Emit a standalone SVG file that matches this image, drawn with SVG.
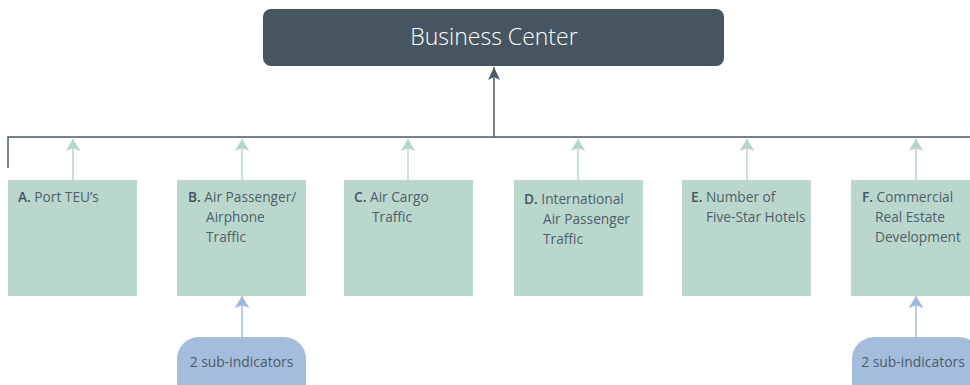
<svg xmlns="http://www.w3.org/2000/svg" width="970" height="385" viewBox="0 0 970 385">
<defs>
<style>
.box{fill:#bad7ce}
.pill{fill:#a5bddc}
.lbl{font-family:"Open Sans","Liberation Sans",sans-serif;font-size:13.7px;fill:#505e68}
.lbl tspan.b{font-weight:600;fill:#46545e}
.pt{font-family:"Open Sans","Liberation Sans",sans-serif;font-size:13.9px;fill:#4e5b68;text-anchor:middle}
.title{font-family:"Open Sans","Liberation Sans",sans-serif;font-size:23px;font-weight:300;fill:#ffffff;text-anchor:middle}
.dk{stroke:#4b5a64;stroke-width:1.5;fill:none}
.gr{stroke:#b7d5cb;stroke-width:1.5;fill:none}
.bl{stroke:#a0b9da;stroke-width:1.5;fill:none}
</style>
<marker id="ahd" viewBox="0 0 14 12" refX="13" refY="6" markerWidth="14" markerHeight="12" markerUnits="userSpaceOnUse" orient="auto">
<path d="M0,0 L13,6 L0,12 L3,6 Z" fill="#4b5a64"/>
</marker>
<marker id="ahg" viewBox="0 0 14 16" refX="13" refY="8" markerWidth="13" markerHeight="16" markerUnits="userSpaceOnUse" orient="auto">
<path d="M0,0 L13,8 L0,16 L3,8 Z" fill="#b7d5cb"/>
</marker>
<marker id="ahb" viewBox="0 0 14 16" refX="13" refY="8" markerWidth="13" markerHeight="16" markerUnits="userSpaceOnUse" orient="auto">
<path d="M0,0 L13,8 L0,16 L3,8 Z" fill="#a0b9da"/>
</marker>
</defs>

<g id="connectors">
<path class="dk" d="M8,168 V137 H970"/>
<path class="dk" d="M494,137 V67" marker-end="url(#ahd)"/>
<path class="gr" d="M73,180 V139" marker-end="url(#ahg)"/>
<path class="gr" d="M242,180 V139" marker-end="url(#ahg)"/>
<path class="gr" d="M408,180 V139" marker-end="url(#ahg)"/>
<path class="gr" d="M578,180 V139" marker-end="url(#ahg)"/>
<path class="gr" d="M747,180 V139" marker-end="url(#ahg)"/>
<path class="gr" d="M916,180 V139" marker-end="url(#ahg)"/>
<path class="bl" d="M242,337 V296" marker-end="url(#ahb)"/>
<path class="bl" d="M916,337 V296" marker-end="url(#ahb)"/>
</g>

<g id="business-center">
<rect x="263" y="9" width="461" height="57" rx="8" fill="#46555f"/>
<text class="title" x="494" y="45">Business Center</text>
</g>

<g id="node-a">
<rect class="box" x="8" y="180" width="129" height="116"/>
<text class="lbl" x="18" y="202"><tspan class="b">A.</tspan> Port TEU’s</text>
</g>

<g id="node-b">
<rect class="box" x="177" y="180" width="129" height="116"/>
<text class="lbl" x="188" y="202"><tspan class="b">B.</tspan> Air Passenger/<tspan x="206" dy="20">Airphone</tspan><tspan x="206" dy="20">Traffic</tspan></text>
</g>

<g id="node-c">
<rect class="box" x="344" y="180" width="129" height="116"/>
<text class="lbl" x="354" y="202"><tspan class="b">C.</tspan> Air Cargo<tspan x="372" dy="20">Traffic</tspan></text>
</g>

<g id="node-d">
<rect class="box" x="514" y="180" width="129" height="116"/>
<text class="lbl" x="524" y="204"><tspan class="b">D.</tspan> International<tspan x="543" dy="20">Air Passenger</tspan><tspan x="543" dy="20">Traffic</tspan></text>
</g>

<g id="node-e">
<rect class="box" x="682" y="180" width="129" height="116"/>
<text class="lbl" x="691" y="202"><tspan class="b">E.</tspan> Number of<tspan x="706" dy="20">Five-Star Hotels</tspan></text>
</g>

<g id="node-f">
<rect class="box" x="851" y="180" width="129" height="116"/>
<text class="lbl" x="862" y="202"><tspan class="b">F.</tspan> Commercial<tspan x="875" dy="20">Real Estate</tspan><tspan x="875" dy="20">Development</tspan></text>
</g>

<g id="sub-b">
<rect class="pill" x="177" y="337" width="129" height="70" rx="22"/>
<text class="pt" x="241.5" y="367">2 sub-indicators</text>
</g>

<g id="sub-f">
<rect class="pill" x="852" y="337" width="129" height="70" rx="22"/>
<text class="pt" x="913" y="367">2 sub-indicators</text>
</g>
</svg>
